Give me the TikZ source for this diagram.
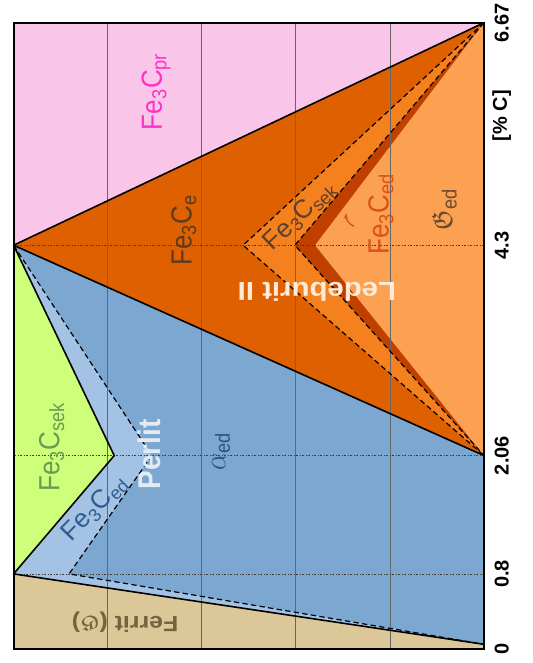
\documentclass[tikz,border=0pt]{standalone}
\usepackage{amssymb}
\usepackage{graphicx}
\usepackage{fontspec}
\setmainfont{Liberation Sans}
\usetikzlibrary{arrows.meta}

\definecolor{pinkpr}{HTML}{F9C6EA}
\definecolor{orangee}{HTML}{DF6000}
\definecolor{orangesek}{HTML}{F5801E}
\definecolor{brownband}{HTML}{C04000}
\definecolor{orangeed}{HTML}{FCA052}
\definecolor{bluealpha}{HTML}{7BA7D1}
\definecolor{bluelight}{HTML}{A4C3E4}
\definecolor{greensek}{HTML}{CDFF7A}
\definecolor{tanferrit}{HTML}{DCC798}
\definecolor{magentapr}{HTML}{FF30C8}
\definecolor{txte}{HTML}{5C3A1E}
\definecolor{txtsekl}{HTML}{5A4030}
\definecolor{txtedl}{HTML}{D8501A}
\definecolor{txtgam}{HTML}{6B4A2E}
\definecolor{txtled}{HTML}{FBEBD7}
\definecolor{txtperl}{HTML}{E2EAF4}
\definecolor{txtalp}{HTML}{2F4F7F}
\definecolor{txtedp}{HTML}{2F5C92}
\definecolor{txtsekp}{HTML}{6B9A55}
\definecolor{txtfer}{HTML}{75623F}

% the drawing is a little wider than its lettering
\newcommand{\stretchx}[1]{\scalebox{1.13}[1]{#1}}
\newcommand{\stretchy}[1]{\scalebox{1}[1.12]{#1}}

\begin{document}
\begin{tikzpicture}[x=3.528pt, y=70.43pt,
    lbl/.style={inner sep=0pt, font=\fontsize{19.5}{20}\selectfont},
    boldlbl/.style={inner sep=0pt, font=\fontsize{19.5}{20}\selectfont\bfseries},
    tick/.style={rotate=90, inner sep=0pt, font=\fontsize{15}{15}\selectfont\bfseries},
    bound/.style={line width=1.2pt, line join=round},
    dashline/.style={line width=0.9pt, dash pattern=on 4pt off 2.5pt},
    gridline/.style={line width=0.5pt, black!60},
    levelline/.style={line width=0.5pt, black!75, dash pattern=on 2pt off 1pt on 0.5pt off 1pt}]
    \useasboundingbox (-2.89,-0.149) rectangle (110.42,6.912);
    \coordinate (O) at (0,0);
    \coordinate (A) at (0,4.3);
    \coordinate (T) at (100,6.67);
    \coordinate (E) at (100,2.06);
    \coordinate (F) at (100,0.05);
    \coordinate (P) at (0,0.8);
    % fields
    \fill[pinkpr] (A) -- (0,6.67) -- (T) -- cycle;
    \fill[orangee] (A) -- (T) -- (E) -- cycle;
    \fill[orangesek] (T) -- (48.8,4.3) -- (E) -- cycle;
    \fill[brownband] (T) -- (59.8,4.3) -- (E) -- cycle;
    \fill[orangeed] (T) -- (64.1,4.3) -- (E) -- cycle;
    \fill[bluealpha] (A) -- (E) -- (F) -- (P) -- cycle;
    \fill[bluelight] (A) -- (29.4,2.06) -- (11.8,0.8) -- (F) -- (P) -- cycle;
    \fill[greensek] (A) -- (21.4,2.06) -- (P) -- cycle;
    \fill[tanferrit] (O) -- (P) -- (F) -- (100,0) -- cycle;
    % grid
    \foreach \x in {20,40,60,80} {\draw[gridline] (\x,0) -- (\x,6.67);}
    \foreach \y in {0.8,2.06,4.3} {\draw[levelline] (0,\y) -- (100,\y);}
    % lines
    \draw[bound] (A) -- (T);
    \draw[bound] (A) -- (E);
    \draw[bound] (A) -- (21.4,2.06) -- (P) -- (F);
    \draw[dashline] (T) -- (48.8,4.3) -- (E);
    \draw[dashline] (T) -- (59.8,4.3) -- (E);
    \draw[dashline] (A) -- (29.4,2.06) -- (11.8,0.8) -- (F);
    \draw[line width=1.5pt] (O) rectangle (T);
    % labels
    \node[lbl, rotate=90, text=magentapr] (pr) at (30.3,5.935) {\stretchy{Fe\textsubscript{3}C\textsubscript{pr}}};
    \node[lbl, rotate=90, text=txte] (eu) at (36.2,4.46) {\stretchy{Fe\textsubscript{3}C\textsubscript{e}}};
    \node[lbl, rotate=44, text=txtsekl] (sekl) at (60.9,4.62) {Fe\textsubscript{3}C\textsubscript{sek}};
    \node[lbl, rotate=90, text=txtedl] (edl) at (78.1,4.63) {\stretchy{Fe\textsubscript{3}C\textsubscript{ed}}};
    \node[lbl, rotate=90, text=txtgam] (gam) at (91.6,4.68) {\stretchy{$\mathfrak{G}$\textsubscript{ed}}};
    \node[boldlbl, rotate=180, text=txtled] (led) at (64.5,3.80) {\stretchx{Ledeburit II}};
    \node[boldlbl, rotate=90, font=\fontsize{21}{21}\selectfont\bfseries, text=txtperl] (perl) at (28.8,2.07) {\stretchy{Perlit}};
    \node[lbl, rotate=90, text=txtalp] (alp) at (44.1,2.10) {\stretchy{$\alpha$\textsubscript{ed}}};
    \node[lbl, rotate=46, text=txtedp] (edp) at (17.3,1.50) {Fe\textsubscript{3}C\textsubscript{ed}};
    \node[lbl, rotate=90, text=txtsekp] (sekp) at (8.1,2.15) {\stretchy{Fe\textsubscript{3}C\textsubscript{sek}}};
    \node[boldlbl, rotate=180, font=\fontsize{16.5}{17}\selectfont\bfseries, text=txtfer] (fer) at (23.7,0.29) {\stretchx{Ferrit ($\mathfrak{G}$)}};
    \draw[-{Stealth[length=4pt]}, line width=1pt, txtedl] (72.4,4.50) to[bend left=35] (70.7,4.64);
    % axis
    \node[tick] (t0) at (103.8,0) {0};
    \node[tick] (t1) at (103.8,0.8) {0.8};
    \node[tick] (t2) at (103.8,2.06) {2.06};
    \node[tick] (t3) at (103.8,4.3) {4.3};
    \node[tick] (t4) at (103.8,6.67) {6.67};
    \node[tick] (unit) at (103.8,5.68) {[\% C]};
\end{tikzpicture}
\end{document}
